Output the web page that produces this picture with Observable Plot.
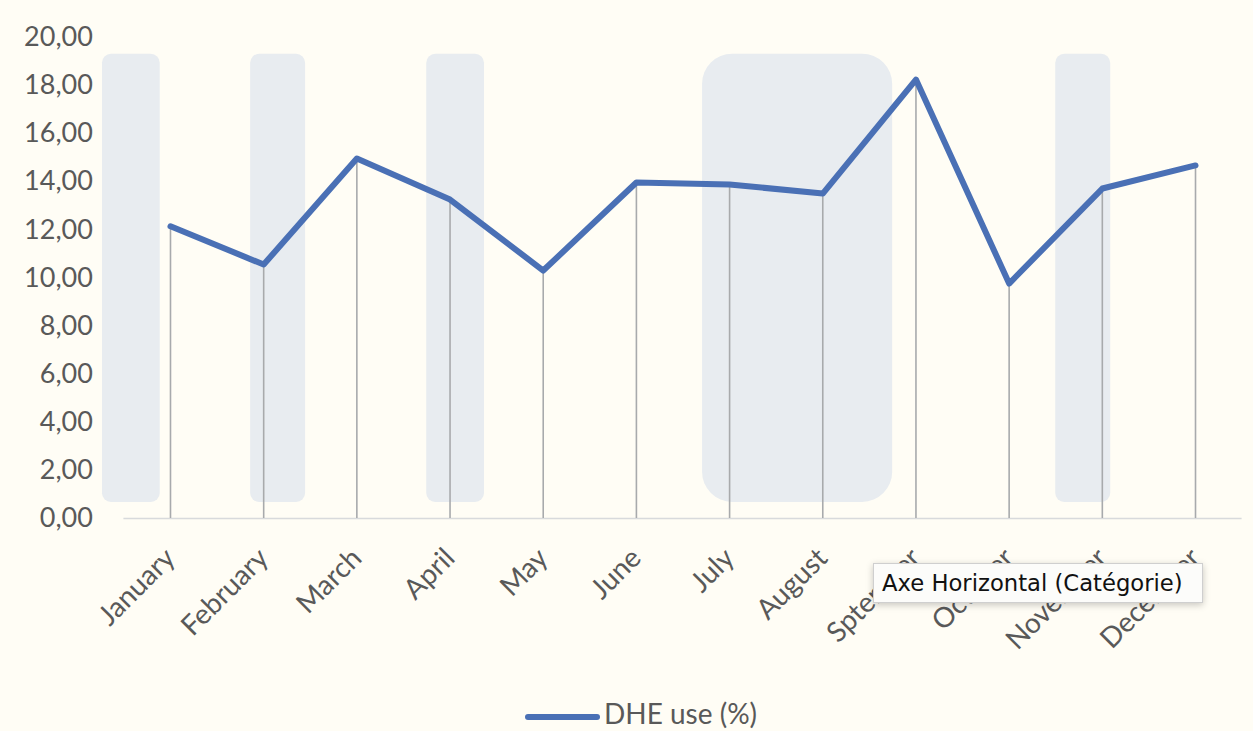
<!DOCTYPE html>
<html><head><meta charset="utf-8">
<script src="https://cdn.jsdelivr.net/npm/d3@7"></script>
<script src="https://cdn.jsdelivr.net/npm/@observablehq/plot@0.6"></script>
<style>
body{margin:0;background:#fffdf5;}
#wrap{position:relative;width:1253px;height:731px;background:#fffdf5;overflow:hidden;}
#legend{position:absolute;left:0;top:690px;width:1253px;height:41px;}
#legend .sw{position:absolute;left:525px;top:24px;width:75px;height:6px;border-radius:3px;background:#4a70b5;}
#legend .lb{position:absolute;left:604px;top:9px;font-family:Lato,sans-serif;font-size:28px;line-height:28px;color:#595959;white-space:nowrap;}
#tip{position:absolute;left:873px;top:563px;width:320px;height:38px;background:#fcfcfa;border:1px solid #cfcfcf;box-shadow:0 2px 7px rgba(0,0,0,0.22);font-family:"DejaVu Sans",sans-serif;font-size:22.7px;line-height:38px;color:#111;padding-left:8px;box-sizing:content-box;white-space:nowrap;}
</style></head><body><div id="wrap"></div>
<script>
const months = ["January","February","March","April","May","June","July","August","Sptember","October","November","December"];
const dheUse = [12.15,10.56,14.97,13.26,10.31,13.97,13.89,13.51,18.25,9.77,13.72,14.68];
const yTicks = [0,2,4,6,8,10,12,14,16,18,20];
// highlight boxes, in month-index units (x) and value units (y)
const highlightNarrow = [
  {x1:-0.73, x2:-0.11, y1:0.67, y2:19.3},
  {x1:0.86, x2:1.45, y1:0.67, y2:19.3},
  {x1:2.75, x2:3.37, y1:0.67, y2:19.3},
  {x1:9.50, x2:10.09, y1:0.67, y2:19.3}
];
const highlightWide = [
  {x1:5.71, x2:7.75, y1:0.67, y2:19.3}
];

const data = months.map((m,i)=>({i, month:m, value:dheUse[i]}));
const idx = d3.range(months.length);

const chart = Plot.plot({
  width:1253, height:690,
  marginLeft:123.4, marginRight:11.4, marginTop:37, marginBottom:172,
  style:{background:"transparent", fontFamily:"Lato, sans-serif", color:"#595959", overflow:"visible"},
  x:{domain:[-0.5, months.length-0.5]},
  y:{domain:[0,20]},
  marks:[
    Plot.rect(highlightNarrow, {x1:"x1", x2:"x2", y1:"y1", y2:"y2", fill:"#e8ecf0", rx:9}),
    Plot.rect(highlightWide, {x1:"x1", x2:"x2", y1:"y1", y2:"y2", fill:"#e8ecf0", rx:30}),
    Plot.ruleY([0], {stroke:"#d8dadc", strokeWidth:1.5}),
    Plot.ruleX(data, {x:"i", y1:0, y2:"value", stroke:"#a8aaac", strokeWidth:1.6}),
    Plot.line(data, {x:"i", y:"value", stroke:"#4a70b5", strokeWidth:6, strokeLinecap:"round", strokeLinejoin:"round"}),
    Plot.axisY(yTicks, {tickSize:0, tickPadding:31, fontSize:27, fill:"#595959", label:null,
      tickFormat:d=>d.toFixed(2).replace(".",",")}),
    Plot.axisX(idx, {tickSize:0, tickPadding:35, tickRotate:-45, fontSize:28, fill:"#595959", label:null,
      tickFormat:i=>months[i]})
  ]
});
const wrap = document.getElementById("wrap");
wrap.appendChild(chart);
const legend = document.createElement("div");
legend.id = "legend";
legend.innerHTML = '<div class="sw"></div><div class="lb">DHE use (%)</div>';
wrap.appendChild(legend);
const tip = document.createElement("div");
tip.id = "tip";
tip.textContent = "Axe Horizontal (Catégorie)";
wrap.appendChild(tip);
</script></body></html>
